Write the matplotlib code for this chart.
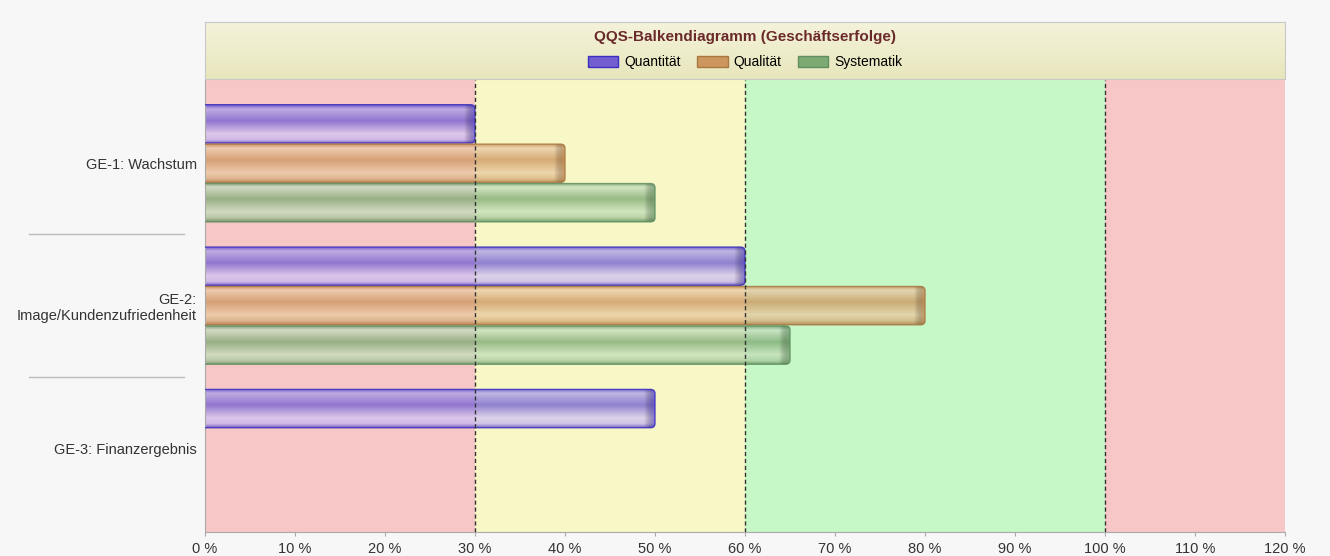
import matplotlib.pyplot as plt
import numpy as np
from matplotlib.colors import LinearSegmentedColormap
from matplotlib.patches import Rectangle, FancyBboxPatch
import matplotlib.transforms as mtransforms

plt.rcParams['font.family'] = ['Liberation Sans', 'DejaVu Sans']

# Data
categories = ['GE-1: Wachstum', 'GE-2:\nImage/Kundenzufriedenheit', 'GE-3: Finanzergebnis']
series = ['Quantität', 'Qualität', 'Systematik']
quantitaet = [30, 60, 50]
qualitaet = [40, 80, 0]
systematik = [50, 65, 0]
zones = [(0, 30), (30, 60), (60, 100), (100, 120)]
zone_lines = [30, 60, 100]
xticks = list(range(0, 121, 10))

zone_colors = ['#f7c6c6', '#f8f7c6', '#c6f7c6', '#f7c6c6']
base_cols = {
    'Quantität': [(70, 50, 200), (175, 165, 235), (115, 95, 210), (215, 200, 245), (195, 180, 240), (80, 60, 195)],
    'Qualität': [(185, 120, 60), (235, 205, 170), (205, 150, 95), (235, 205, 165), (215, 175, 125), (175, 115, 60)],
    'Systematik': [(90, 140, 90), (200, 225, 195), (125, 170, 115), (200, 225, 190), (165, 200, 155), (85, 135, 85)],
}
edge_cols = {'Quantität': '#3a30c0', 'Qualität': '#a87840', 'Systematik': '#5f8f60'}
stops = [0.0, 0.12, 0.42, 0.75, 0.9, 1.0]

fig = plt.figure(figsize=(13.3, 5.56), dpi=100)
fig.patch.set_facecolor('#f7f7f7')

ax = fig.add_axes([205 / 1330, 24 / 556, 1080 / 1330, 452 / 556])
ax.set_xlim(0, 120)
ax.set_ylim(2.59, -0.585)

for (a, b), c in zip(zones, zone_colors):
    ax.axvspan(a, b, color=c, zorder=0, lw=0)
for v in zone_lines:
    ax.axvline(v, color='#333333', ls=(0, (3, 2)), lw=1, zorder=5)

y = np.arange(len(categories))
h = 0.277
data = [quantitaet, qualitaet, systematik]
grad = np.linspace(0, 1, 64).reshape(-1, 1)
for i, (name, vals) in enumerate(zip(series, data)):
    cmap = LinearSegmentedColormap.from_list(
        name, [(s, tuple(np.array(c) / 255)) for s, c in zip(stops, base_cols[name])])
    bars = ax.barh(y + (i - 1) * h, vals, height=h, color='none', lw=0, zorder=3)
    for bar, v in zip(bars, vals):
        bar.set_visible(False)
        if v <= 0:
            continue
        x0, y0, w = bar.get_x(), bar.get_y(), bar.get_width()
        # rounded outline (left end hidden behind the axis)
        shape = FancyBboxPatch((x0 - 1, y0 + 0.004), w + 1, h - 0.008,
                               boxstyle='round,pad=0,rounding_size=0.5',
                               mutation_aspect=0.06, facecolor='none',
                               edgecolor=edge_cols[name], lw=1.0, alpha=0.85, zorder=4)
        ax.add_patch(shape)
        im = ax.imshow(grad, cmap=cmap, aspect='auto', alpha=0.78,
                       extent=(x0, x0 + w, y0 + h, y0), zorder=2)
        im.set_clip_path(shape)
        # darker shading at the right end
        shade = np.linspace(0, 1, 32).reshape(1, -1)
        sm = ax.imshow(shade, cmap=LinearSegmentedColormap.from_list(
            'sh', [(0, 0, 0, 0), tuple(np.array(base_cols[name][0]) / 255) + (0.55,)]),
            aspect='auto', extent=(x0 + w - 1.2, x0 + w, y0 + h, y0), zorder=2.5)
        sm.set_clip_path(shape)

ax.set_xlim(0, 120)
ax.set_ylim(2.59, -0.585)
ax.set_xticks(xticks)
ax.set_xticklabels([f'{t} %' for t in xticks], fontsize=10.5, color='#333333')
ax.set_yticks(y)
ax.set_yticklabels(categories, fontsize=10.5, color='#333333', ha='right', multialignment='right')
ax.tick_params(axis='y', length=0, pad=6)
ax.tick_params(axis='x', length=3, color='#aaaaaa', pad=4)
for s in ['top', 'right']:
    ax.spines[s].set_visible(False)
for s in ['left', 'bottom']:
    ax.spines[s].set_color('#aaaaaa')

# separators between categories
trans = mtransforms.blended_transform_factory(ax.transAxes, ax.transData)
for sep in [0.5, 1.5]:
    ax.plot([-0.163, -0.019], [sep, sep], transform=trans, color='#bbbbbb',
            lw=1, clip_on=False)

# header with title and legend
hax = fig.add_axes([205 / 1330, 477 / 556, 1080 / 1330, 57 / 556])
hgrad = np.linspace(0, 1, 64).reshape(-1, 1)
hcmap = LinearSegmentedColormap.from_list('hdr', ['#f4f3da', '#e8e6bc'])
hax.imshow(hgrad, cmap=hcmap, aspect='auto', extent=(0, 1, 0, 1))
hax.set_xlim(0, 1)
hax.set_ylim(0, 1)
hax.set_xticks([])
hax.set_yticks([])
for s in hax.spines.values():
    s.set_color('#c8c8c8')
hax.text(0.5, 0.74, 'QQS-Balkendiagramm (Geschäftserfolge)', ha='center', va='center',
         fontsize=11, fontweight='bold', color='#6b2a2a')
handles = [Rectangle((0, 0), 1, 1, facecolor=np.array(base_cols[n][2]) / 255,
                     edgecolor=edge_cols[n], lw=1) for n in series]
hax.legend(handles, series, loc='center', bbox_to_anchor=(0.5, 0.29), ncol=3,
           frameon=False, fontsize=10, handlelength=2.2, handleheight=0.8,
           handletextpad=0.4, columnspacing=1.2)

fig.savefig('out.png', dpi=100, facecolor=fig.get_facecolor())
